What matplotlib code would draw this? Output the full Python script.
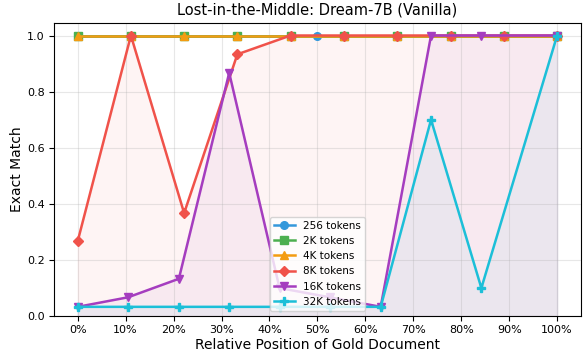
import matplotlib
matplotlib.use("Agg")
import matplotlib.pyplot as plt
from matplotlib.ticker import FuncFormatter

# Gold-document positions (percent of context depth)
pos_256 = [0, 50, 100]
pos_10 = [0, 11.1, 22.2, 33.3, 44.4, 55.6, 66.7, 77.8, 88.9, 100]
pos_long = [0, 10.5, 21.1, 31.6, 42.1, 52.6, 63.2, 73.7, 84.2, 100]

# Exact-match scores per context length
em_256 = [1.0, 1.0, 1.0]
em_2k = [1.0] * 10
em_4k = [1.0] * 10
em_8k = [0.267, 1.0, 0.367, 0.933, 1.0, 1.0, 1.0, 1.0, 1.0, 1.0]
em_16k = [0.033, 0.067, 0.133, 0.867, 0.10, 0.067, 0.033, 1.0, 1.0, 1.0]
em_32k = [0.033, 0.033, 0.033, 0.033, 0.033, 0.033, 0.033, 0.70, 0.10, 1.0]

labels = ["256 tokens", "2K tokens", "4K tokens", "8K tokens", "16K tokens", "32K tokens"]
colors = ["#3498db", "#4caf50", "#f39c12", "#f0524a", "#a53dbf", "#1cbfd8"]
markers = ["o", "s", "^", "D", "v", "P"]
series = [(pos_256, em_256), (pos_10, em_2k), (pos_10, em_4k),
          (pos_10, em_8k), (pos_long, em_16k), (pos_long, em_32k)]
shaded = {"8K tokens", "16K tokens", "32K tokens"}

fig, ax = plt.subplots(figsize=(5.84, 3.52), dpi=100)

for (x, y), lab, c, m in zip(series, labels, colors, markers):
    ax.plot(x, y, color=c, marker=m, markersize=5.5, linewidth=1.8, label=lab)
    if lab in shaded:
        ax.fill_between(x, y, 0, color=c, alpha=0.06)

ax.set_xlim(-5, 105)
ax.set_ylim(0, 1.045)
ax.set_xticks(range(0, 101, 10))
ax.xaxis.set_major_formatter(FuncFormatter(lambda v, _: f"{int(v)}%"))
ax.set_yticks([0, 0.2, 0.4, 0.6, 0.8, 1.0])
ax.tick_params(labelsize=8, pad=3)
ax.grid(True, alpha=0.3)

ax.set_xlabel("Relative Position of Gold Document", fontsize=10, labelpad=2)
ax.set_ylabel("Exact Match", fontsize=10, labelpad=2)
ax.set_title("Lost-in-the-Middle: Dream-7B (Vanilla)", fontsize=10.5, pad=6)
ax.legend(loc="lower center", fontsize=7.5, framealpha=0.8)

fig.subplots_adjust(left=0.092, right=0.995, top=0.935, bottom=0.102)
fig.savefig("out.png", dpi=100)
